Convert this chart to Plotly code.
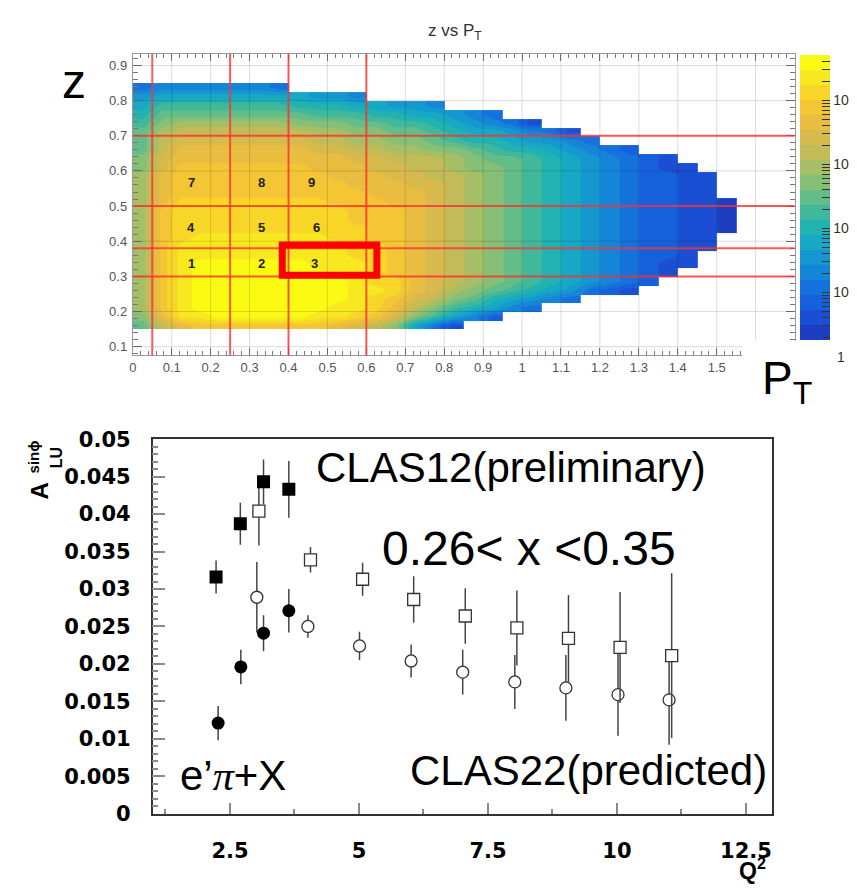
import numpy as np
import plotly.graph_objects as go

W, H = 857, 890


def px(x):
    return x / W


def py(y):
    return 1 - y / H


# ---------------- top panel: z vs PT 2D histogram ----------------
# bin centres of the (coarsely re-read) histogram
pt_centers = [round(0.025 + 0.05 * i, 4) for i in range(32)]
z_centers_top_down = [round(0.8375 - 0.025 * j, 4) for j in range(28)]
# colour band of every bin (top row first); '.' = empty bin
# band index: 0..9 then a..i (= 10..18), 18 = brightest yellow
hist_rows = [
    "34444443",
    "566666666554",
    "6888888877766554",
    "7999999998887766543",
    "8abbbbbbaaa9988765431",
    "9bcccccccbbaa9987665431",
    "9cdddddddccbbaa987765543",
    "9ceeeeeeeddccbbaa987765432",
    "adeeeeeeeeeddcccba9987654321",
    "adfffffffeeeddccbaa9876543211",
    "beffffffffeeeddccba98765432211",
    "befffffffffeeeddcba98765432211",
    "beffffffffffeeedcba98765432211",
    "beggggggggfffeedcba987654322110",
    "bfgggggggggfffedcba987654322110",
    "bfgggggggggfffedcba987654322110",
    "bfggggggggggffedcba987654322110",
    "bfghhhhhhhggffedcba98765432211",
    "bfhhhhhhhhhggfedcba98765432211",
    "bfhhhhhhhhhggfedcba9876543221",
    "bfhiiiiiihhhgfedcba9876543211",
    "bfhiiiiiiihhgfedcba987654321",
    "bfhiiiiiiiihggedcba98765432",
    "bfhiiiiiiiihhgedba98765321",
    "bfhiiiiiiiihgfdca976543",
    "bfhiiiiiiihhgeca87643",
    "aehhiiiiihhgfda8642",
    "9cefffffffedca631",
]
LEVEL_CHARS = "0123456789abcdefghi"
N_LEVELS = 19
LOG_MIN, LOG_MAX = 0.26, 4.71  # log10(counts) range of the palette

band_colors = [
    "#1d3ec0", "#1a4fd4", "#1760dc", "#1572dc", "#1585d8", "#1598d0",
    "#16a8c4", "#22b2b0", "#40b89c", "#62bd88", "#86bf76", "#a6bf66",
    "#c2bb58", "#d8ba4c", "#e8bd40", "#f4c534", "#f8d628", "#f8e820",
    "#fafa12",
]

# axis tick labels of the top panel
pt_tickvals = [round(0.1 * i, 1) for i in range(18)]
pt_ticktext = ["0", "0.1", "0.2", "0.3", "0.4", "0.5", "0.6", "0.7", "0.8", "0.9",
               "1", "1.1", "1.2", "1.3", "1.4", "1.5", "", ""]

# analysis bin boundaries (red lines) and labels
pt_bin_edges = [0.05, 0.25, 0.40, 0.60]
z_bin_edges = [0.30, 0.38, 0.50, 0.70]
bin_labels = ["1", "2", "3", "4", "5", "6", "7", "8", "9"]
bin_label_pt = [0.150, 0.330, 0.467, 0.150, 0.330, 0.471, 0.150, 0.330, 0.459]
bin_label_z = [0.337, 0.337, 0.337, 0.4385, 0.4385, 0.4385, 0.568, 0.568, 0.568]
highlight_box = [0.384, 0.627, 0.303, 0.389]  # PT0, PT1, z0, z1

# ---------------- bottom panel: A_LU^sin(phi) vs Q^2 ----------------
q2_clas12_sq = [2.23, 2.70, 3.15, 3.64]
alu_clas12_sq = [0.0316, 0.0387, 0.0443, 0.0433]
err_clas12_sq = [0.0022, 0.0028, 0.0030, 0.0038]

q2_clas12_ci = [2.27, 2.71, 3.15, 3.64]
alu_clas12_ci = [0.0121, 0.0196, 0.0241, 0.0271]
err_clas12_ci = [0.0023, 0.0023, 0.0024, 0.0029]

q2_clas22_sq = [3.06, 4.06, 5.07, 6.06, 7.06, 8.06, 9.06, 10.06, 11.06]
alu_clas22_sq = [0.0404, 0.0339, 0.0313, 0.0286, 0.0264, 0.0248, 0.0234, 0.0222, 0.0211]
err_clas22_sq = [0.0046, 0.0017, 0.0022, 0.0031, 0.0037, 0.0050, 0.0058, 0.0074, 0.0110]

q2_clas22_ci = [3.02, 4.01, 5.01, 6.01, 7.01, 8.02, 9.01, 10.02, 11.01]
alu_clas22_ci = [0.0289, 0.0250, 0.0224, 0.0204, 0.0189, 0.0176, 0.0168, 0.0159, 0.0152]
err_clas22_ci = [0.0047, 0.0015, 0.0019, 0.0022, 0.0030, 0.0036, 0.0044, 0.0055, 0.0060]

y2_tickvals = [0, 0.005, 0.01, 0.015, 0.02, 0.025, 0.03, 0.035, 0.04, 0.045, 0.05]
y2_ticktext = ["0", "0.005", "0.01", "0.015", "0.02", "0.025", "0.03", "0.035", "0.04", "0.045", "0.05"]
x2_tickvals = [2.5, 5, 7.5, 10, 12.5]
x2_ticktext = ["2.5", "5", "7.5", "10", "12.5"]

# ---------------- build ----------------
bw = (LOG_MAX - LOG_MIN) / N_LEVELS
Z = []
for row in reversed(hist_rows):
    r = row.ljust(32, ".")
    Z.append([None if c == "." else LOG_MIN + (LEVEL_CHARS.index(c) + 0.5) * bw for c in r])
z_centers = list(reversed(z_centers_top_down))

cs = []
for k, c in enumerate(band_colors):
    cs.append([k / N_LEVELS, c])
    cs.append([(k + 1) / N_LEVELS, c])

cb_vals, cb_text = [], []
for d in range(0, 5):
    for m in range(1, 10):
        v = d + np.log10(m)
        if LOG_MIN <= v <= LOG_MAX:
            cb_vals.append(v)
            cb_text.append("10" if m == 1 else "")

fig = go.Figure()
fig.add_trace(go.Heatmap(
    x=pt_centers, y=z_centers, z=Z, zmin=LOG_MIN, zmax=LOG_MAX,
    colorscale=cs, zsmooth="best", hoverinfo="skip", xaxis="x", yaxis="y",
    colorbar=dict(
        x=px(803), xanchor="left", y=py(44), yanchor="top",
        len=293 / H, lenmode="fraction", thickness=30, thicknessmode="pixels",
        xpad=0, ypad=0, outlinewidth=0, ticks="inside", ticklen=8,
        tickcolor="#333", tickwidth=1, tickmode="array",
        tickvals=cb_vals, ticktext=cb_text,
        tickfont=dict(family="Liberation Sans, Arial", size=14, color="#333"),
    ),
))

err_style = dict(type="data", color="#444", thickness=1.5, width=0, visible=True)
fig.add_trace(go.Scatter(
    x=q2_clas22_ci, y=alu_clas22_ci, mode="markers", xaxis="x2", yaxis="y2",
    error_y=dict(array=err_clas22_ci, **err_style),
    marker=dict(symbol="circle", size=12, color="white", line=dict(color="#333", width=1.3)),
))
fig.add_trace(go.Scatter(
    x=q2_clas22_sq, y=alu_clas22_sq, mode="markers", xaxis="x2", yaxis="y2",
    error_y=dict(array=err_clas22_sq, **err_style),
    marker=dict(symbol="square", size=12, color="white", line=dict(color="#333", width=1.3)),
))
fig.add_trace(go.Scatter(
    x=q2_clas12_ci, y=alu_clas12_ci, mode="markers", xaxis="x2", yaxis="y2",
    error_y=dict(array=err_clas12_ci, **err_style),
    marker=dict(symbol="circle", size=13, color="black"),
))
fig.add_trace(go.Scatter(
    x=q2_clas12_sq, y=alu_clas12_sq, mode="markers", xaxis="x2", yaxis="y2",
    error_y=dict(array=err_clas12_sq, **err_style),
    marker=dict(symbol="square", size=13, color="black"),
))

top_tickfont = dict(family="Liberation Sans, Arial", size=13, color="#555")
bot_tickfont = dict(family="DejaVu Sans", size=21, color="black", weight="bold")

fig.update_layout(
    width=W, height=H, margin=dict(l=0, r=0, t=0, b=0, pad=0),
    paper_bgcolor="white", plot_bgcolor="white", showlegend=False,
    xaxis=dict(
        domain=[px(130), px(798)], range=[0, 1.7], anchor="y",
        tickmode="array", tickvals=pt_tickvals, ticktext=pt_ticktext,
        ticks="inside", ticklen=7,
        tickcolor="#777", tickwidth=1, showgrid=False, zeroline=False,
        showline=True, linecolor="#999", linewidth=1, mirror="allticks",
        tickfont=top_tickfont, ticklabelstandoff=0,
        minor=dict(tickmode="linear", tick0=0, dtick=0.02, ticks="inside",
                   ticklen=4, tickcolor="#777", showgrid=False),
    ),
    yaxis=dict(
        domain=[py(353), py(43)], range=[0.075, 0.933], anchor="x",
        tickmode="linear", tick0=0, dtick=0.1, ticks="inside", ticklen=9,
        tickcolor="#777", tickwidth=1, showgrid=False, zeroline=False,
        showline=True, linecolor="#999", linewidth=1, mirror="allticks",
        tickfont=top_tickfont, ticklabelstandoff=2,
        minor=dict(tickmode="linear", tick0=0, dtick=0.02, ticks="inside",
                   ticklen=5, tickcolor="#777", showgrid=False),
    ),
    xaxis2=dict(
        domain=[px(150), px(775)], range=[1, 13], anchor="y2",
        tickmode="array", tickvals=x2_tickvals, ticktext=x2_ticktext,
        ticks="inside", ticklen=11, tickcolor="#8a8a8a", tickwidth=1.5,
        showgrid=False, zeroline=False, showline=True, linecolor="#333",
        linewidth=1.5, mirror=True, tickfont=bot_tickfont, ticklabelstandoff=17,
        minor=dict(tickmode="linear", tick0=0, dtick=1.25, ticks="inside",
                   ticklen=5, tickcolor="#8a8a8a", tickwidth=1.5, showgrid=False),
    ),
    yaxis2=dict(
        domain=[py(824), py(439)], range=[0, 0.05], anchor="x2",
        tickmode="array", tickvals=y2_tickvals, ticktext=y2_ticktext,
        ticks="inside", ticklen=13, tickcolor="#8a8a8a", tickwidth=1.5,
        showgrid=False, zeroline=False, showline=True, linecolor="#333",
        linewidth=1.5, mirror=True, tickfont=bot_tickfont, ticklabelstandoff=16,
        minor=dict(tickmode="linear", tick0=0, dtick=0.001, ticks="inside",
                   ticklen=6, tickcolor="#8a8a8a", tickwidth=1.5, showgrid=False),
    ),
)

shapes = []
# grid over the histogram
for v in np.arange(0.1, 1.65, 0.1):
    shapes.append(dict(type="line", xref="x", yref="y domain", x0=v, x1=v, y0=0, y1=1,
                       line=dict(color="rgba(0,0,0,0.14)", width=1), layer="above"))
for v in np.arange(0.1, 0.95, 0.1):
    shapes.append(dict(type="line", xref="x domain", yref="y", x0=0, x1=1, y0=v, y1=v,
                       line=dict(color="rgba(0,0,0,0.14)", width=1), layer="above"))
for v in pt_bin_edges:
    shapes.append(dict(type="line", xref="x", yref="y domain", x0=v, x1=v, y0=0, y1=1,
                       line=dict(color="rgba(255,50,50,0.8)", width=2), layer="above"))
for v in z_bin_edges:
    shapes.append(dict(type="line", xref="x domain", yref="y", x0=0, x1=1, y0=v, y1=v,
                       line=dict(color="rgba(255,50,50,0.8)", width=2), layer="above"))
shapes.append(dict(type="rect", xref="x", yref="y", x0=highlight_box[0], x1=highlight_box[1],
                   y0=highlight_box[2], y1=highlight_box[3],
                   line=dict(color="#ff0000", width=7), layer="above"))
shapes.append(dict(type="rect", xref="paper", yref="paper", x0=px(745), x1=px(836),
                   y0=py(412), y1=py(338), fillcolor="white", line=dict(width=0), layer="above"))
fig.update_layout(shapes=shapes)

ann = []
for t, xv, yv in zip(bin_labels, bin_label_pt, bin_label_z):
    ann.append(dict(text="<b>%s</b>" % t, x=xv, y=yv, xref="x", yref="y", showarrow=False,
                    font=dict(family="Liberation Sans, Arial", size=13, color="#222")))

ARIAL = "Liberation Sans, Arial"


def pann(text, x, y, size, xanchor="center", yanchor="middle", color="black", family=ARIAL, angle=0):
    ann.append(dict(text=text, x=px(x), y=py(y), xref="paper", yref="paper", showarrow=False,
                    xanchor=xanchor, yanchor=yanchor, textangle=angle,
                    font=dict(family=family, size=size, color=color)))


pann("z vs P<sub>T</sub>", 455, 21, 17, color="#333")
pann("z", 71, 71, 48)
pann("P<sub>T</sub>", 763, 380, 46, xanchor="left")
pann("1", 845, 355, 14, color="#333")
pann("CLAS12(preliminary)", 313, 468, 42, xanchor="left")
pann("0.26&lt; x &lt;0.35", 380, 551, 48, xanchor="left")
pann("e’<span style=\"font-family:Liberation Serif\"><i>π</i></span>+X", 176, 785, 42, xanchor="left")
pann("CLAS22(predicted)", 408, 780, 42, xanchor="left")
pann("<b>A</b>", 36, 492, 24, angle=-90)
pann("<b>sinϕ</b>", 30, 457, 15, angle=-90)
pann("<b>LU</b>", 53, 458, 16, angle=-90)
pann("<b>Q<sup>2</sup></b>", 756, 881, 23)
fig.update_layout(annotations=ann)

fig.write_html("out.html")
